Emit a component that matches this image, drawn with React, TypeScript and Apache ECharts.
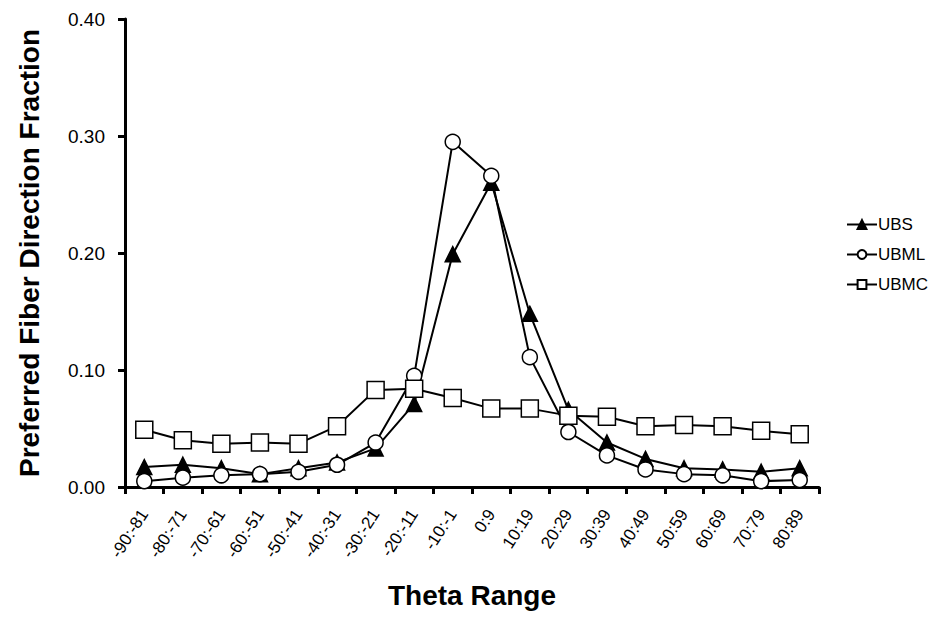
import React, { useEffect, useRef } from "react";
import * as echarts from "echarts";

const categories = ["-90:-81","-80:-71","-70:-61","-60:-51","-50:-41","-40:-31","-30:-21","-20:-11","-10:-1","0:9","10:19","20:29","30:39","40:49","50:59","60:69","70:79","80:89"];
const ubs = [0.017,0.019,0.016,0.011,0.016,0.021,0.033,0.071,0.199,0.26,0.148,0.066,0.038,0.024,0.016,0.015,0.013,0.016];
const ubml = [0.005,0.008,0.010,0.011,0.013,0.019,0.038,0.095,0.295,0.266,0.111,0.047,0.027,0.015,0.011,0.010,0.005,0.006];
const ubmc = [0.049,0.040,0.037,0.038,0.037,0.052,0.083,0.084,0.076,0.067,0.067,0.061,0.060,0.052,0.053,0.052,0.048,0.045];
const yTicks = { min: 0, max: 0.4, interval: 0.1 };

export default function App() {
  const ref = useRef<HTMLDivElement>(null);
  useEffect(() => {
    if (!ref.current) return;
    const chart = echarts.init(ref.current, null, { renderer: "svg" });
    const font = "Liberation Sans, Arial, sans-serif";
    const mk = (name: string, data: number[], symbol: string, size: number, fill: string) => ({
      name,
      type: "line",
      data,
      symbol,
      symbolSize: size,
      showAllSymbol: true,
      lineStyle: { color: "#000", width: 2 },
      itemStyle: { color: fill, borderColor: "#000", borderWidth: 1.5 },
    });
    chart.setOption({
      animation: false,
      backgroundColor: "#fff",
      textStyle: { fontFamily: font },
      grid: { left: 125, right: 125, top: 19, bottom: 131 },
      legend: {
        orient: "vertical",
        left: 841,
        top: 211,
        itemGap: 13,
        itemWidth: 30,
        itemHeight: 11,
        textStyle: { fontFamily: font, fontSize: 17, color: "#000", padding: [0, 0, 0, -4] },
        data: ["UBS", "UBML", "UBMC"],
      },
      xAxis: {
        type: "category",
        data: categories,
        boundaryGap: true,
        name: "Theta Range",
        nameLocation: "middle",
        nameGap: 94,
        nameTextStyle: { fontFamily: font, fontSize: 28, fontWeight: "bold", color: "#000" },
        axisLine: { lineStyle: { color: "#000", width: 3 } },
        axisTick: { show: true, length: 7, lineStyle: { color: "#000", width: 3 } },
        axisLabel: { rotate: 57, fontSize: 17, color: "#000", fontFamily: font, margin: 24, interval: 0 },
      },
      yAxis: {
        type: "value",
        min: yTicks.min,
        max: yTicks.max,
        interval: yTicks.interval,
        name: "Preferred Fiber Direction Fraction",
        nameLocation: "middle",
        nameGap: 82,
        nameTextStyle: { fontFamily: font, fontSize: 28, fontWeight: "bold", color: "#000" },
        splitLine: { show: false },
        axisLine: { show: true, lineStyle: { color: "#000", width: 3 } },
        axisTick: { show: true, length: 7, lineStyle: { color: "#000", width: 3 } },
        axisLabel: { fontSize: 19, color: "#000", fontFamily: font, margin: 20, formatter: (v: number) => v.toFixed(2) },
      },
      series: [
        mk("UBS", ubs, "triangle", 15, "#000"),
        mk("UBML", ubml, "circle", 15, "#fff"),
        mk("UBMC", ubmc, "rect", 17, "#fff"),
      ],
    });
    return () => chart.dispose();
  }, []);
  return <div ref={ref} style={{ position: "fixed", left: 0, top: 0, width: 944, height: 618 }} />;
}
